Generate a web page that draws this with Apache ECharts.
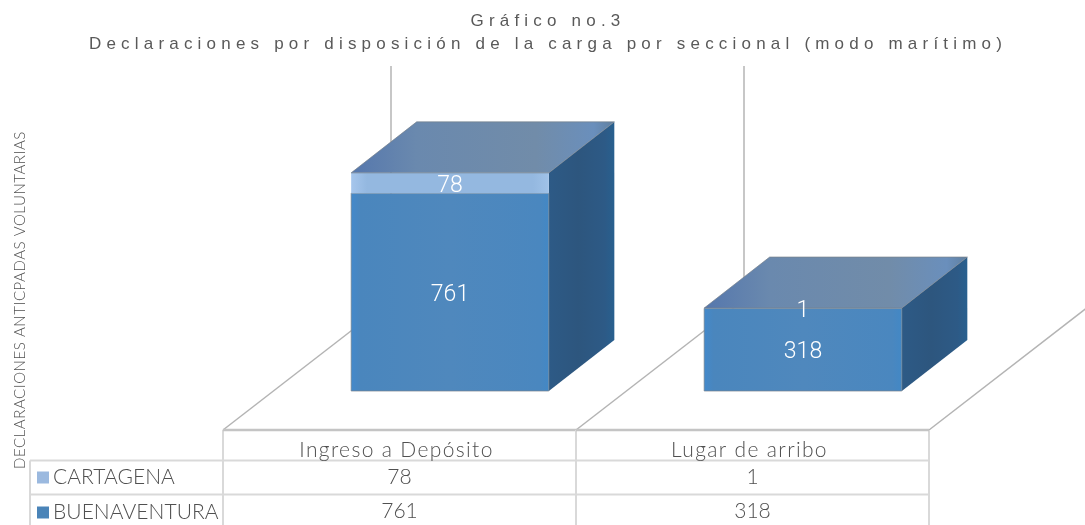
<!DOCTYPE html>
<html><head><meta charset="utf-8">
<style>html,body{margin:0;padding:0;background:#fff}#c{width:1085px;height:525px}</style>
<script src="https://cdn.jsdelivr.net/npm/echarts@6/dist/echarts.min.js"></script></head>
<body><div id="c"></div>
<script>
const categories = ['Ingreso a Depósito', 'Lugar de arribo'];
const seriesNames = ['CARTAGENA', 'BUENAVENTURA'];
const cartagena = [78, 1];
const buenaventura = [761, 318];
const titleLines = ['Gráfico no.3', 'Declaraciones por disposición de la carga por seccional (modo marítimo)'];
const yAxisTitle = 'DECLARACIONES ANTICPADAS VOLUNTARIAS';

const chart = echarts.init(document.getElementById('c'), null, {renderer: 'canvas'});
const zr = chart.getZr();
const FONT = 'Lato, "Open Sans", sans-serif';
const TEXT = '#505050';
const G = echarts.graphic.LinearGradient;
zr.painter.getLayer(1).ctx.letterSpacing = '5.2px';
zr.painter.getLayer(2).ctx.letterSpacing = '0.55px';
zr.painter.getLayer(3).ctx.letterSpacing = '1.35px';
zr.painter.getLayer(4).ctx.letterSpacing = '0.05px';

const frontBlue = new G(0,0,1,0,[{offset:0,color:'#4289cc'},{offset:.05,color:'#4a86bd'},{offset:.5,color:'#4f88bd'},{offset:.95,color:'#4a87bf'},{offset:1,color:'#4288c6'}]);
const frontLight = new G(0,0,1,0,[{offset:0,color:'#a6c6ec'},{offset:.08,color:'#94b8e0'},{offset:.92,color:'#94b8e0'},{offset:1,color:'#a0c2e8'}]);
const topFace = new G(0,0,1,0,[{offset:0,color:'#5577ad'},{offset:.25,color:'#6a89ae'},{offset:.7,color:'#718ca9'},{offset:.92,color:'#6a8fbc'},{offset:1,color:'#5f7f9f'}]);
const sideFace = new G(0,0,1,0,[{offset:0,color:'#2d5a86'},{offset:.45,color:'#2d567e'},{offset:.85,color:'#2d5a86'},{offset:1,color:'#28608f'}]);

function bar(isTop, front) {
  return function (params, api) {
    const i = api.value(0), base = api.value(1), val = api.value(2);
    const band = api.size([1, 0])[0];
    const w = band * 0.56, dx = 65.5, dy = -51;
    const p0 = api.coord([i, base]), p1 = api.coord([i, base + val]);
    const l = p0[0] - w / 2, r = p0[0] + w / 2, yb = p0[1], yt = p1[1];
    const edge = {stroke: 'rgba(120,130,140,.7)', lineWidth: 1};
    const kids = [];
    if (!isTop) {
      const yAll = api.coord([i, base + val + cartagena[i]])[1];
      kids.push({type:'polygon', shape:{points:[[r,yb],[r+dx,yb+dy],[r+dx,yAll+dy],[r,yAll]]}, style:{fill:sideFace}});
    }
    kids.push({type:'rect', shape:{x:l,y:yt,width:w,height:yb-yt}, style:Object.assign({fill:front}, isTop ? {} : edge)});
    if (isTop) kids.push({type:'polygon', shape:{points:[[l,yt],[r,yt],[r+dx,yt+dy],[l+dx,yt+dy]]}, style:Object.assign({fill:topFace}, edge)});
    kids.push({type:'text', z2:10, style:{text:String(val), x:p0[0], y:(yb+yt)/2+3, fill:'#fff', fontFamily:'Roboto', fontWeight:300, fontSize:23, align:'center', verticalAlign:'middle'}});
    return {type:'group', children:kids};
  };
}

const fx = -50.5, fy = 39, bx = 117.5, by = -91;

function frame(params, api) {
  const i = api.value(0), n = categories.length;
  const c = api.coord([i, 0]), band = api.size([1, 0])[0];
  const left = c[0] - band / 2, base = c[1], tableTop = base + fy;
  const topY = api.coord([i, 900])[1] + by;
  const wall = {stroke:'#b4b4b4', lineWidth:1.5};
  const kids = [];
  const ln = (x1,y1,x2,y2,s) => kids.push({type:'line', shape:{x1,y1,x2,y2}, style:s});
  const boundary = (xx) => {
    ln(xx+fx, tableTop, xx+bx, base+by, wall);
    ln(xx+bx, base+by, xx+bx, topY, wall);
  };
  boundary(left);
  if (i === n - 1) boundary(left + band);
  return {type:'group', children:kids};
}

function table(params, api) {
  const i = api.value(0), n = categories.length;
  const c = api.coord([i, 0]), band = api.size([1, 0])[0];
  const left = c[0] - band / 2, base = c[1], tableTop = base + fy;
  const rowY = [460.5, 494.5], H = 525;
  const tbl = {stroke:'#d9d9d9', lineWidth:2};
  const kids = [];
  const ln = (x1,y1,x2,y2,s) => kids.push({type:'line', shape:{x1,y1,x2,y2}, style:s});
  ln(left+fx, tableTop, left+fx, H, tbl);
  if (i === n - 1) ln(left+band+fx, tableTop, left+band+fx, H, tbl);
  ln(left+fx, tableTop, left+fx+band, tableTop, {stroke:'#c4c4c4', lineWidth:2.5});
  rowY.forEach(y => ln(left+fx, y, left+fx+band, y, tbl));
  if (i === 0) { rowY.forEach(y => ln(30, y, left+fx, y, tbl)); ln(30, rowY[0], 30, H, tbl); }
  kids.push({type:'text', style:{text:categories[i], x:c[0]+fx-3, y:450, fill:TEXT, fontFamily:FONT, fontWeight:300, fontSize:21, align:'center', verticalAlign:'middle'}});
  return {type:'group', children:kids};
}

function tableValues(params, api) {
  const i = api.value(0), c = api.coord([i, 0]);
  const t = (text, y) => ({type:'text', style:{text:String(text), x:c[0]+fx, y, fill:TEXT, fontFamily:FONT, fontWeight:300, fontSize:21, align:'center', verticalAlign:'middle'}});
  return {type:'group', children:[t(cartagena[i], 477), t(buenaventura[i], 511)]};
}

chart.setOption({
  animation: false,
  backgroundColor: '#fff',
  title: {zlevel:1, text: titleLines.join('\n'), left: 543, top: 5, textAlign:'center',
    textStyle:{color:'#595959', fontFamily:'"Liberation Sans"', fontWeight:'normal', fontSize:17, lineHeight:23}},
  grid: {left:273.5, width:706, top:157, height:234},
  xAxis: {type:'category', data:categories, show:false},
  yAxis: {type:'value', min:0, max:900, show:false},
  legend: {zlevel:4, data:seriesNames, orient:'vertical', left:37, top:467, padding:0, itemWidth:12, itemHeight:12, itemGap:14, icon:'rect', selectedMode:false,
    textStyle:{color:TEXT, fontFamily:FONT, fontWeight:300, fontSize:21, lineHeight:20, padding:[0,0,0,-1]}},
  graphic: [{type:'text', zlevel:2, silent:true, x:20, y:300, rotation:Math.PI/2, style:{text:yAxisTitle, fill:TEXT, fontFamily:FONT, fontWeight:300, fontSize:15, align:'center', verticalAlign:'middle'}}],
  series: [
    {type:'custom', name:'frame', silent:true, z:1, encode:{x:0,y:1}, data:categories.map((c,i)=>[i,0]), renderItem:frame},
    {type:'custom', name:'table', silent:true, z:1, zlevel:3, encode:{x:0,y:1}, data:categories.map((c,i)=>[i,0]), renderItem:table},
    {type:'custom', name:'tableValues', silent:true, z:1, zlevel:4, encode:{x:0,y:1}, data:categories.map((c,i)=>[i,0]), renderItem:tableValues},
    {type:'custom', name:seriesNames[1], silent:true, z:2, itemStyle:{color:'#4a84b8'}, encode:{x:0,y:[1,2]}, data:buenaventura.map((v,i)=>[i,0,v]), renderItem:bar(false, frontBlue)},
    {type:'custom', name:seriesNames[0], silent:true, z:3, itemStyle:{color:'#9bb9df'}, encode:{x:0,y:[1,2]}, data:cartagena.map((v,i)=>[i,buenaventura[i],v]), renderItem:bar(true, frontLight)}
  ]
});
</script></body></html>
